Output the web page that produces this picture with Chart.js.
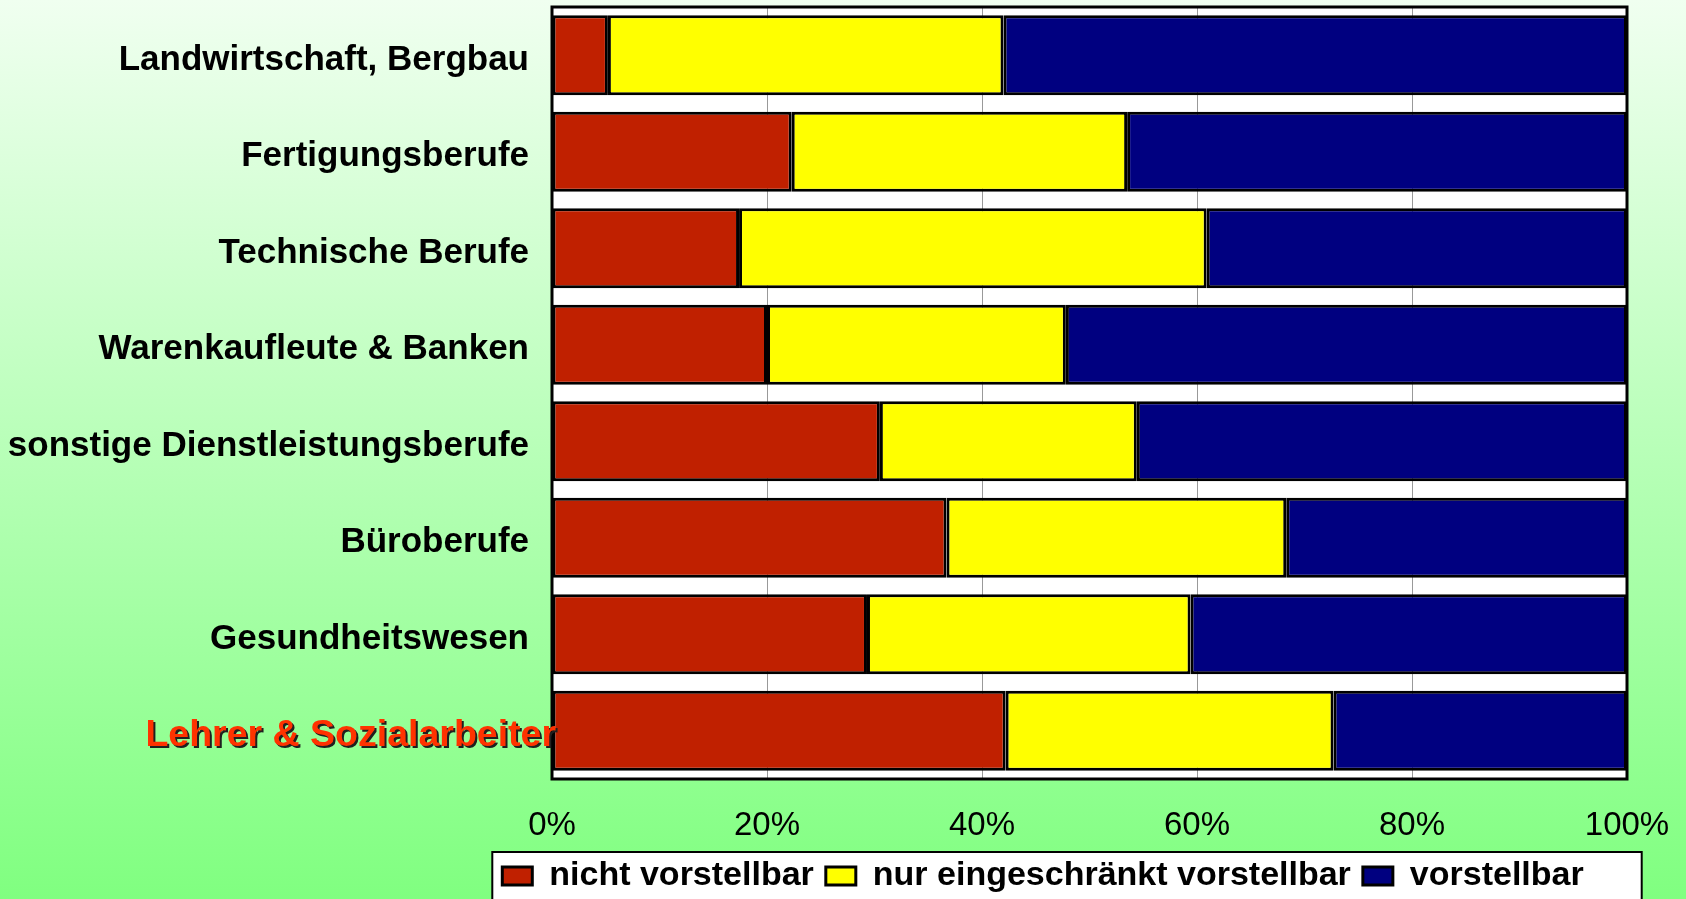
<!DOCTYPE html>
<html>
<head>
<meta charset="utf-8">
<title>Berufe</title>
<script src="https://cdn.jsdelivr.net/npm/chart.js@4/dist/chart.umd.min.js"></script>
<style>
    html, body { margin: 0; padding: 0; overflow: hidden; }
    body { width: 1686px; height: 899px; background: linear-gradient(to bottom, #F0FFF0 0%, #80FF80 100%); }
    #wrap { position: relative; width: 1686px; height: 899px; }
</style>
</head>
<body>
<div id="wrap"><canvas id="myChart"></canvas></div>
<script>
// Werte in Prozent, von oben nach unten
const berufe = ['Landwirtschaft, Bergbau', 'Fertigungsberufe', 'Technische Berufe', 'Warenkaufleute & Banken',
    'sonstige Dienstleistungsberufe', 'Büroberufe', 'Gesundheitswesen', 'Lehrer & Sozialarbeiter'];
const nichtVorstellbar = [5.2, 22.3, 17.4, 20.0, 30.5, 36.7, 29.3, 42.2];
const eingeschraenkt = [36.8, 31.2, 43.5, 27.8, 23.9, 31.6, 30.1, 30.5];
const vorstellbar = [58.0, 46.5, 39.1, 52.2, 45.6, 31.7, 40.6, 27.3];
const serien = ['nicht vorstellbar', 'nur eingeschränkt vorstellbar', 'vorstellbar'];
const markiert = 'Lehrer & Sozialarbeiter';

const schrift = "'Liberation Sans', Arial, sans-serif";

const rahmen = {
    id: 'rahmen',
    afterLayout: function (chart) {
        // Legende nach links schieben, wie im Original
        var lg = chart.legend;
        lg.left = chart.chartArea.left - 93;
        lg.right = chart.chartArea.right;
        lg.width = lg.right - lg.left;
    },
    beforeDraw: function (chart) {
        var ctx = chart.ctx;
        var a = chart.chartArea;
        ctx.save();
        ctx.fillStyle = '#FFFFFF';
        ctx.fillRect(a.left, a.top, a.right - a.left, a.bottom - a.top);
        // weisser Kasten hinter der Legende
        var boxes = chart.legend.legendHitBoxes;
        if (boxes && boxes.length) {
            var first = boxes[0], last = boxes[boxes.length - 1];
            var l = first.left - 10, r = last.left + last.width + 58, t = first.top - 7;
            ctx.fillRect(l, t, r - l, chart.height - t + 10);
            ctx.lineWidth = 2;
            ctx.strokeStyle = '#000000';
            ctx.strokeRect(l, t, r - l, chart.height - t + 10);
        }
        ctx.restore();
    },
    afterDatasetsDraw: function (chart) {
        var ctx = chart.ctx;
        var a = chart.chartArea;
        ctx.save();
        ctx.lineWidth = 3;
        ctx.strokeStyle = '#000000';
        ctx.strokeRect(a.left, a.top, a.right - a.left, a.bottom - a.top);
        ctx.restore();
    },
    afterDraw: function (chart) {
        // hervorgehobene Beschriftung mit Schatten
        var ctx = chart.ctx;
        var yScale = chart.scales.y;
        var i = berufe.indexOf(markiert);
        var y = yScale.getPixelForValue(i) + 5;
        var x = chart.chartArea.left + 4;
        ctx.save();
        ctx.font = 'bold 37.5px ' + schrift;
        ctx.textAlign = 'right';
        ctx.textBaseline = 'middle';
        ctx.fillStyle = '#202020';
        ctx.fillText(markiert, x + 2, y + 2);
        ctx.fillStyle = '#FF3300';
        ctx.fillText(markiert, x, y);
        ctx.restore();
    }
};

const ctx = document.getElementById('myChart');
new Chart(ctx, {
    type: 'bar',
    data: {
        labels: berufe,
        datasets: [{
                label: serien[0],
                data: nichtVorstellbar,
                backgroundColor: '#C02000'
            }, {
                label: serien[1],
                data: eingeschraenkt,
                backgroundColor: '#FFFF00'
            }, {
                label: serien[2],
                data: vorstellbar,
                backgroundColor: '#000080'
            }]
    },
    options: {
        indexAxis: 'y',
        responsive: true,
        maintainAspectRatio: false,
        animation: false,
        datasets: {
            bar: {
                categoryPercentage: 1,
                barPercentage: 0.83,
                borderColor: '#000000',
                borderWidth: 3,
                borderSkipped: false
            }
        },
        layout: {
            autoPadding: false,
            padding: {left: 0, right: 59, top: 7, bottom: -4}
        },
        scales: {
            x: {
                stacked: true,
                min: 0,
                max: 100,
                grid: {color: '#999999', lineWidth: 1, drawTicks: false},
                border: {display: false},
                ticks: {
                    stepSize: 20,
                    padding: 27,
                    color: '#000000',
                    font: {family: schrift, size: 33},
                    callback: function (v) { return v + '%'; }
                },
                afterFit: function (scale) {
                    scale.height = 68;
                    scale.paddingLeft = 0;
                    scale.paddingRight = 0;
                }
            },
            y: {
                stacked: true,
                grid: {display: false, drawTicks: false},
                border: {display: false},
                ticks: {
                    autoSkip: false,
                    padding: 23,
                    labelOffset: 5,
                    color: '#000000',
                    font: {family: schrift, size: 35, weight: 'bold'},
                    callback: function (value) {
                        var name = this.getLabelForValue(value);
                        return name === markiert ? '' : name;
                    }
                },
                afterFit: function (scale) {
                    scale.width = 552;
                    scale.paddingTop = 0;
                    scale.paddingBottom = 0;
                }
            }
        },
        plugins: {
            tooltip: {enabled: false},
            legend: {
                position: 'bottom',
                labels: {
                    boxWidth: 30,
                    boxHeight: 18,
                    padding: 12,
                    color: '#000000',
                    font: {family: schrift, size: 34, weight: 'bold'}
                }
            }
        }
    },
    plugins: [rahmen]
});
</script>
</body>
</html>
